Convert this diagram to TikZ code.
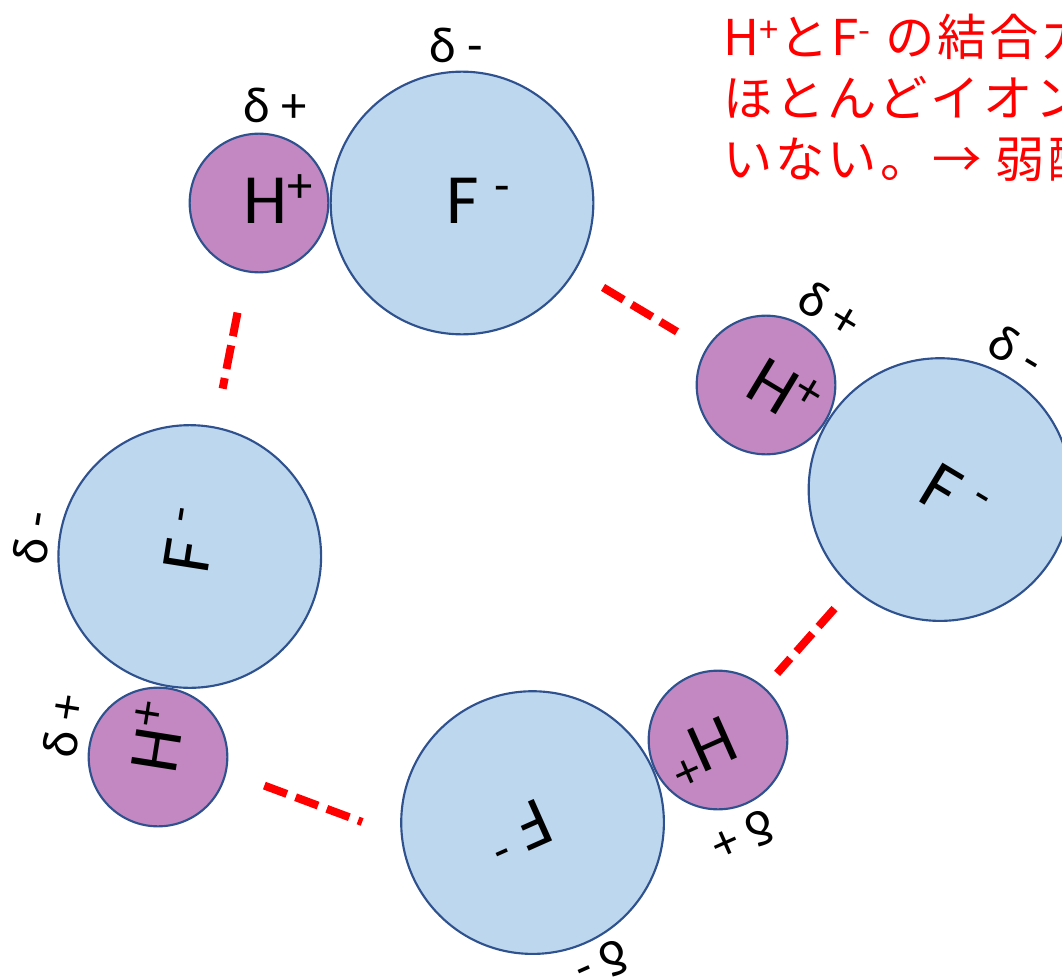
\documentclass[tikz,border=0pt]{standalone}
\usepackage{fontspec}
\setmainfont{Carlito}
\newfontfamily\jpfont{Noto Sans CJK JP}[LetterSpace=6]
\usepackage{tikz}
\usetikzlibrary{positioning}
\definecolor{hpurple}{HTML}{C388C1}
\definecolor{fblue}{HTML}{BDD7EE}
\definecolor{rimblue}{HTML}{2F528F}
\definecolor{bondred}{HTML}{FF0000}
\newcommand{\chg}[1]{\raisebox{16pt}{\fontsize{38}{38}\selectfont #1}}
\tikzset{
  hatom/.style={circle, draw=rimblue, fill=hpurple, line width=1.6pt, minimum size=104pt, inner sep=0pt},
  fatom/.style={circle, draw=rimblue, fill=fblue, line width=1.6pt, minimum size=197pt, inner sep=0pt},
  ion/.style={font=\fontsize{53}{60}\selectfont, inner sep=0pt, transform shape},
  pol/.style={font=\fontsize{38}{44}\selectfont, inner sep=0pt, transform shape},
  hbond/.style={draw=bondred, line width=6pt, dash pattern=on 18pt off 7pt},
  note/.style={font=\jpfont\fontsize{37}{46}\selectfont, text=bondred, align=left, inner sep=0pt},
}

\begin{document}
\begin{tikzpicture}[x=0.75pt, y=-0.75pt]
  \useasboundingbox (0,0) rectangle (1062,977);
  \clip (0,0) rectangle (1062,977);
  % four HF molecules, same layout, turned round the ring
  \foreach \i/\hx/\hy/\turn in {1/259/203/0, 2/766/385/-31, 3/718/740/-156, 4/158/757/81}{
    \begin{scope}[shift={(\hx,\hy)}, rotate=\turn]
      \node[hatom] (h\i) at (0,0) {};
      \node[fatom] (f\i) at (203,0) {};
      \node[ion] (hl\i) at (19,-4) {H\chg{+}};
      \node[ion] (fl\i) at (219,-2) {F\ \chg{-}};
      \node[pol] (hd\i) at (16,-98) {δ +};
      \node[pol] (fd\i) at (197,-158) {δ -};
    \end{scope}
  }
  % hydrogen bonds
  \draw[hbond, shorten <=31pt, shorten >=29pt] (h1) -- (f4);
  \draw[hbond, shorten <=24pt, shorten >=25pt] (f1) -- (h2);
  \draw[hbond, shorten <=20pt, shorten >=14pt] (f2) -- (h3);
  \draw[hbond, shorten <=30pt, shorten >=31pt] (h4.-12) -- (f3.186);
  % comment text, runs off the right edge
  \node[note, anchor=north west] (msg) at (723,13)
    {H\textsuperscript{+}とF\textsuperscript{-} の結合力が\\ほとんどイオンに\\いない。→ 弱酸};
\end{tikzpicture}
\end{document}
